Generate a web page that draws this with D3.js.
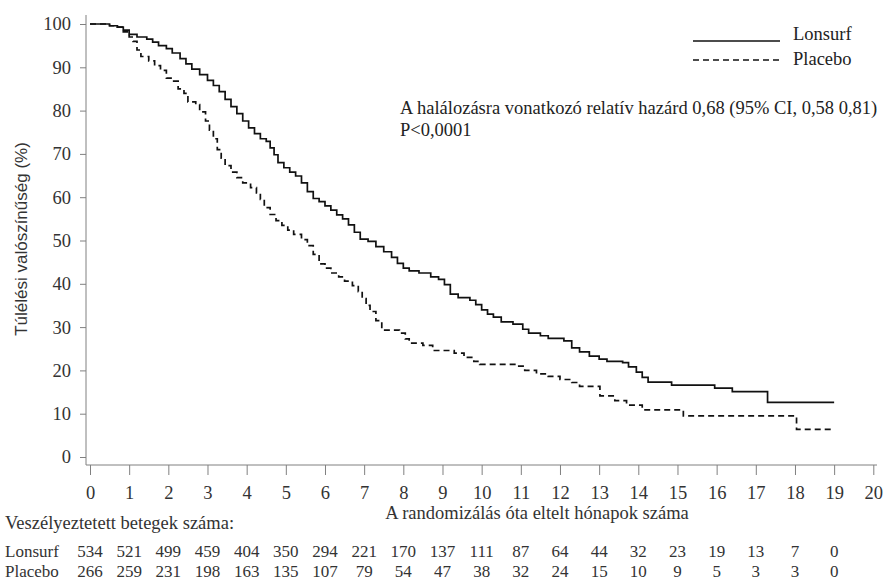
<!DOCTYPE html>
<html>
<head>
<meta charset="utf-8">
<script src="https://cdn.jsdelivr.net/npm/d3@7"></script>
<style>
  body { margin: 0; background: #fff; }
  svg text { font-family: "Liberation Serif", "Times New Roman", Times, "DejaVu Serif", serif; }
  svg text.sans { font-family: "Liberation Sans", Arial, sans-serif; }
</style>
</head>
<body>
<script>
// survival curves (month, survival %)
var lonsurfT = [0, 0.3, 0.5, 0.7, 0.85, 1.0, 1.2, 1.45, 1.6, 1.75, 1.95, 2.1, 2.3, 2.45, 2.6, 2.8, 3.0, 3.15, 3.3, 3.45, 3.6, 3.75, 3.9, 4.05, 4.2, 4.35, 4.5, 4.6, 4.7, 4.8, 4.95, 5.1, 5.25, 5.4, 5.55, 5.7, 5.85, 6.0, 6.15, 6.3, 6.45, 6.6, 6.75, 6.9, 7.1, 7.3, 7.5, 7.7, 7.85, 8.0, 8.15, 8.4, 8.7, 8.9, 9.05, 9.2, 9.4, 9.7, 9.85, 10.0, 10.15, 10.3, 10.5, 10.8, 11.05, 11.2, 11.5, 11.7, 12.1, 12.3, 12.5, 12.75, 13.0, 13.2, 13.6, 13.75, 13.95, 14.1, 14.25, 14.85, 15.95, 16.4, 17.3, 19.0];
var lonsurfS = [100, 100, 99.6, 99.3, 98.6, 97.6, 97.0, 96.5, 95.8, 95.0, 94.3, 93.3, 92.0, 90.8, 89.6, 88.3, 87.0, 85.8, 84.4, 82.6, 80.9, 79.3, 77.6, 76.0, 74.7, 73.5, 72.9, 71.4, 69.8, 68.0, 66.8, 65.8, 64.9, 63.3, 61.3, 59.7, 59.0, 58.0, 57.0, 55.9, 55.0, 53.6, 51.9, 50.3, 49.8, 48.6, 47.4, 46.1, 44.7, 43.6, 43.0, 42.5, 41.6, 41.0, 39.8, 37.6, 36.8, 36.2, 35.2, 34.0, 33.0, 32.3, 31.2, 30.7, 29.5, 28.6, 28.0, 27.4, 26.8, 25.2, 24.3, 23.3, 22.6, 22.1, 21.8, 20.8, 19.6, 18.4, 17.3, 16.6, 15.9, 15.1, 12.6, 12.6];

var placeboT = [0, 0.3, 0.5, 0.7, 0.85, 1.0, 1.1, 1.2, 1.3, 1.5, 1.65, 1.8, 1.95, 2.1, 2.25, 2.4, 2.5, 2.7, 2.8, 2.95, 3.05, 3.15, 3.25, 3.35, 3.45, 3.6, 3.75, 3.9, 4.1, 4.25, 4.35, 4.45, 4.6, 4.75, 4.9, 5.05, 5.2, 5.4, 5.55, 5.7, 5.85, 6.0, 6.15, 6.35, 6.5, 6.7, 6.85, 6.95, 7.05, 7.15, 7.3, 7.45, 7.9, 8.05, 8.15, 8.5, 8.75, 9.3, 9.55, 9.8, 9.95, 10.9, 11.1, 11.4, 11.7, 12.0, 12.3, 12.5, 13.02, 13.4, 13.7, 14.1, 15.15, 18.04, 19.0];
var placeboS = [100, 100, 99.6, 99.3, 98.2, 97.0, 96.0, 94.0, 92.5, 91.5, 90.4, 89.3, 87.5, 86.8, 85.0, 84.0, 82.0, 81.4, 79.7, 77.6, 75.5, 73.5, 71.0, 69.0, 67.3, 65.8, 64.5, 63.3, 62.2, 61.0, 59.5, 57.6, 56.0, 54.6, 53.5, 52.4, 51.4, 50.2, 48.8, 46.8, 44.6, 43.6, 42.5, 41.6, 40.6, 39.6, 38.2, 36.6, 35.0, 33.6, 31.5, 29.3, 28.6, 27.3, 26.3, 25.8, 24.6, 24.0, 23.0, 22.1, 21.4, 21.0, 20.0, 19.2, 18.6, 17.9, 17.2, 16.3, 14.1, 13.0, 12.0, 10.9, 9.5, 6.4, 6.4];

// numbers at risk, one per month 0..19
var riskMonths = d3.range(0, 20);
var riskLonsurf = [534, 521, 499, 459, 404, 350, 294, 221, 170, 137, 111, 87, 64, 44, 32, 23, 19, 13, 7, 0];
var riskPlacebo = [266, 259, 231, 198, 163, 135, 107, 79, 54, 47, 38, 32, 24, 15, 10, 9, 5, 3, 3, 0];

var xTicks = d3.range(0, 21);
var yTicks = d3.range(0, 101, 10);

var W = 883, H = 581;
var fs = "18.5px";
var textCol = "#333";
var axisCol = "#808080";

var svg = d3.select("body")
    .append("svg")
    .attr("width", W)
    .attr("height", H);

var x = d3.scaleLinear().domain([0, 20]).range([90, 873.3]);
var y = d3.scaleLinear().domain([0, 100]).range([457, 24]);

// y axis
var gy = svg.append("g")
    .attr("transform", "translate(86,0)")
    .call(d3.axisLeft(y).tickValues(yTicks).tickSize(6).tickPadding(9));
gy.attr("font-family", null).attr("font-size", null);
gy.select(".domain").remove();
gy.selectAll(".tick line").attr("stroke", axisCol);
gy.selectAll(".tick text")
    .attr("fill", textCol)
    .style("font-size", fs);
gy.append("line")
    .attr("x1", 0).attr("x2", 0)
    .attr("y1", 15).attr("y2", 465)
    .attr("stroke", axisCol);

// x axis
var gx = svg.append("g")
    .attr("transform", "translate(0,465)")
    .call(d3.axisBottom(x).tickValues(xTicks).tickFormat(d3.format("d")).tickSize(10).tickPadding(11));
gx.attr("font-family", null).attr("font-size", null);
gx.select(".domain").remove();
gx.selectAll(".tick line").attr("stroke", axisCol);
gx.selectAll(".tick text")
    .attr("fill", textCol)
    .style("font-size", fs);
gx.append("line")
    .attr("x1", 86).attr("x2", 877)
    .attr("y1", 0).attr("y2", 0)
    .attr("stroke", axisCol);

// axis titles
svg.append("text")
    .attr("class", "sans")
    .attr("transform", "translate(27,239) rotate(-90)")
    .attr("text-anchor", "middle")
    .style("font-size", "17px")
    .attr("fill", textCol)
    .text("Túlélési valószínűség (%)");

svg.append("text")
    .attr("x", 537).attr("y", 519)
    .attr("text-anchor", "middle")
    .style("font-size", fs)
    .attr("fill", textCol)
    .text("A randomizálás óta eltelt hónapok száma");

// curves
var line = d3.line()
    .x(function(d) { return x(d[0]); })
    .y(function(d) { return y(d[1]); })
    .curve(d3.curveStepAfter);

svg.append("path")
    .datum(d3.zip(lonsurfT, lonsurfS))
    .attr("d", line)
    .attr("fill", "none")
    .attr("stroke", "#111")
    .attr("stroke-width", 1.7);

svg.append("path")
    .datum(d3.zip(placeboT, placeboS))
    .attr("d", line)
    .attr("fill", "none")
    .attr("stroke", "#111")
    .attr("stroke-width", 1.7)
    .attr("stroke-dasharray", "6,4");

// legend
var legend = [
    { name: "Lonsurf", ly: 41, ty: 40, dash: null },
    { name: "Placebo", ly: 60, ty: 65, dash: "6,4" }
];
legend.forEach(function(l) {
    svg.append("line")
        .attr("x1", 693).attr("x2", 780)
        .attr("y1", l.ly).attr("y2", l.ly)
        .attr("stroke", "#111")
        .attr("stroke-width", 1.7)
        .attr("stroke-dasharray", l.dash);
    svg.append("text")
        .attr("x", 793).attr("y", l.ty)
        .style("font-size", fs)
        .attr("fill", "#222")
        .text(l.name);
});

// hazard ratio note
svg.append("text")
    .attr("x", 400).attr("y", 114)
    .style("font-size", fs)
    .attr("fill", "#222")
    .text("A halálozásra vonatkozó relatív hazárd 0,68 (95% CI, 0,58 0,81)");
svg.append("text")
    .attr("x", 400).attr("y", 136)
    .style("font-size", fs)
    .attr("fill", "#222")
    .text("P<0,0001");

// numbers at risk
svg.append("text")
    .attr("x", 5).attr("y", 529)
    .style("font-size", fs)
    .attr("fill", textCol)
    .text("Veszélyeztetett betegek száma:");

var rows = [
    { name: "Lonsurf", vals: riskLonsurf, ty: 557 },
    { name: "Placebo", vals: riskPlacebo, ty: 577 }
];
rows.forEach(function(r) {
    svg.append("text")
        .attr("x", 5).attr("y", r.ty)
        .style("font-size", "17px")
        .attr("fill", textCol)
        .text(r.name);
    svg.selectAll(null)
        .data(riskMonths)
        .enter()
        .append("text")
        .attr("x", function(d) { return x(d); })
        .attr("y", r.ty)
        .attr("text-anchor", "middle")
        .style("font-size", "17px")
        .attr("fill", textCol)
        .text(function(d, i) { return r.vals[i]; });
});
</script>
</body>
</html>
